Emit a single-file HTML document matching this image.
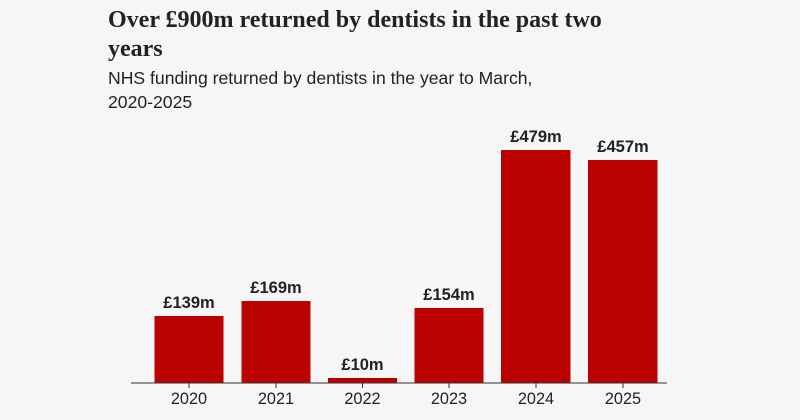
<!DOCTYPE html>
<html><head><meta charset="utf-8"><style>
body{margin:0;background:#f6f6f6;}
svg{display:block}
</style></head><body>
<svg width="800" height="420" xmlns="http://www.w3.org/2000/svg">
<rect width="800" height="420" fill="#f6f6f6"/>
<g font-family="Liberation Serif, serif" font-weight="bold" font-size="24" fill="#222">
<text x="108" y="27">Over £900m returned by dentists in the past two</text>
<text x="108" y="56">years</text>
</g>
<g font-family="Liberation Sans, sans-serif" font-size="17.6" fill="#222">
<text x="108" y="84">NHS funding returned by dentists in the year to March,</text>
<text x="108" y="108">2020-2025</text>
</g>
<g fill="#bb0000">
<rect x="154.5" y="316" width="69" height="67"/>
<rect x="241.5" y="301" width="69" height="82"/>
<rect x="328" y="378" width="69" height="5"/>
<rect x="414.5" y="308" width="69" height="75"/>
<rect x="501" y="150" width="69.5" height="233"/>
<rect x="588" y="160" width="69.5" height="223"/>
</g>
<line x1="131" y1="383" x2="667" y2="383" stroke="#333" stroke-width="1"/>
<g stroke="#333">
<line x1="189" y1="383" x2="189" y2="388"/><line x1="276" y1="383" x2="276" y2="388"/>
<line x1="362.5" y1="383" x2="362.5" y2="388"/><line x1="449" y1="383" x2="449" y2="388"/>
<line x1="536" y1="383" x2="536" y2="388"/><line x1="623" y1="383" x2="623" y2="388"/>
</g>
<g font-family="Liberation Sans, sans-serif" font-size="16.3" fill="#222" text-anchor="middle">
<text x="189" y="404">2020</text><text x="276" y="404">2021</text><text x="362.5" y="404">2022</text>
<text x="449" y="404">2023</text><text x="536" y="404">2024</text><text x="623" y="404">2025</text>
</g>
<g font-family="Liberation Sans, sans-serif" font-weight="bold" font-size="16.5" fill="#222" text-anchor="middle">
<text x="189" y="308">£139m</text><text x="276" y="293">£169m</text><text x="362.5" y="370">£10m</text>
<text x="449" y="300">£154m</text><text x="536" y="142">£479m</text><text x="623" y="152">£457m</text>
</g>
</svg>
</body></html>
